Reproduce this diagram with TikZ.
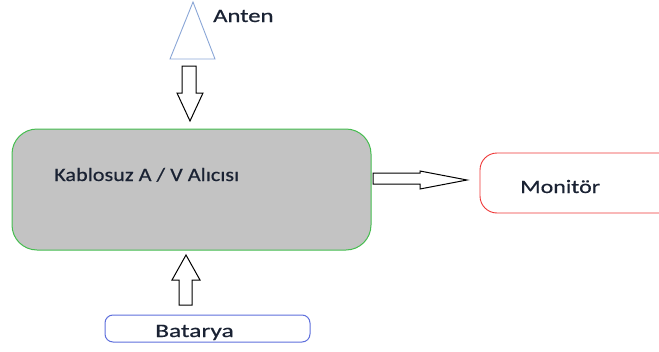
\documentclass[tikz,border=0pt]{standalone}
\usepackage{fontspec}
\setmainfont{Carlito}[FakeBold=0.5]
\definecolor{antblue}{HTML}{8AA6D6}
\definecolor{boxgreen}{HTML}{45BD4F}
\definecolor{boxgray}{HTML}{C3C3C3}
\definecolor{monred}{HTML}{EE3535}
\definecolor{batblue}{HTML}{5E6FDC}
\definecolor{txt}{HTML}{1A2233}
\tikzset{
  lbl/.style={font=\fontsize{19}{22}\selectfont, text=txt, inner sep=0pt},
  blockarrow/.style={draw=black, line width=1pt, fill=white, line join=miter},
}
\begin{document}
\begin{tikzpicture}[x=1pt,y=-1pt]
\useasboundingbox (0,0) rectangle (659,351);
\clip (0,0) rectangle (659,351);
% antenna
\draw[antblue, line width=0.9pt] (170,59) -- (193,2) -- (215,59) -- cycle;
\node[lbl, anchor=base west] (anten) at (213,22) {\scalebox{1.3}[1]{Anten}};
% down arrow
\draw[blockarrow] (182,66) -- (196,66) -- (196,93) -- (203,93) -- (190,121) -- (177,93) -- (182,93) -- cycle;
% main box
\node[draw=boxgreen, fill=boxgray, line width=1pt, rounded corners=25pt, minimum width=359pt, minimum height=121pt, inner sep=0pt] (rx) at (191.5,189.5) {};
\node[lbl, anchor=base west] (rxlbl) at (54,181) {\scalebox{1.17}[1]{Kablosuz A / V Alıcısı}};
% right arrow
\draw[blockarrow] (373,173) -- (420,173) -- (420,171) -- (467,180) -- (420,189) -- (420,184) -- (373,184) -- cycle;
% monitor
\draw[monred, line width=0.9pt, rounded corners=17pt] (480,153) rectangle (700,213);
\node[lbl, anchor=base west] (mon) at (520,193) {\scalebox{1.26}[1]{Monitör}};
% up arrow
\draw[blockarrow] (179,305) -- (192,305) -- (192,280) -- (200,280) -- (186,255) -- (172,280) -- (179,280) -- cycle;
% battery
\node[draw=batblue, line width=1pt, rounded corners=8pt, minimum width=205pt, minimum height=27pt, inner sep=0pt] (bat) at (207.5,328.5) {};
\node[lbl, anchor=base west] (batlbl) at (155,337) {\scalebox{1.34}[1]{Batarya}};
\end{tikzpicture}
\end{document}
